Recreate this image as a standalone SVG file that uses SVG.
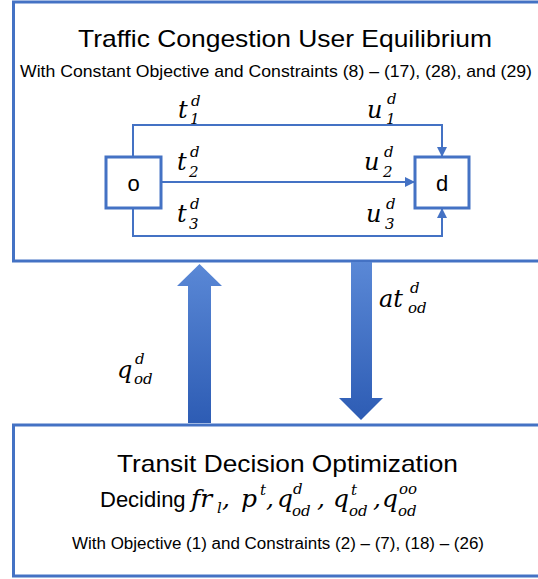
<svg xmlns="http://www.w3.org/2000/svg" width="538" height="579" viewBox="0 0 538 579">
<style>
.box{fill:#fff;stroke:#4472C4;stroke-width:3}
.node{fill:#fff;stroke:#4472C4;stroke-width:3}
.edge{fill:none;stroke:#4472C4;stroke-width:2}
.t{font-family:"Liberation Sans",Arial,sans-serif;fill:#000}
.m{font-family:"DejaVu Serif","Liberation Serif",serif;font-style:italic;fill:#000}
.s{font-size:15px}
.big{fill:url(#g)}
</style>
<defs>
<marker id="ah" markerWidth="10" markerHeight="10" refX="9" refY="5" orient="auto" markerUnits="userSpaceOnUse">
<path d="M0,0 L10,5 L0,10 z" fill="#4472C4"/>
</marker>
<linearGradient id="g" x1="0" y1="0" x2="0" y2="1">
<stop offset="0" stop-color="#5A88D6"/>
<stop offset="1" stop-color="#2D5CB4"/>
</linearGradient>
</defs>

<g id="top-box">
<rect class="box" x="13.5" y="2" width="540" height="259"/>
<text class="t" x="285" y="47" font-size="24" text-anchor="middle" textLength="414" lengthAdjust="spacingAndGlyphs">Traffic Congestion User Equilibrium</text>
<text class="t" x="276" y="77" font-size="17" text-anchor="middle" textLength="512" lengthAdjust="spacingAndGlyphs">With Constant Objective and Constraints (8) – (17), (28), and (29)</text>
</g>

<g id="bottom-box">
<rect class="box" x="13.5" y="425" width="540" height="151"/>
<text class="t" x="117" y="472" font-size="24" textLength="341" lengthAdjust="spacingAndGlyphs">Transit Decision Optimization</text>
<text class="t" x="100" y="507" font-size="22">Deciding</text>
<text class="m" x="191" y="507" font-size="25">fr<tspan class="s" x="217" y="513">l</tspan><tspan x="222" y="507">,</tspan></text>
<text class="m" x="241" y="507" font-size="25">p<tspan class="s" x="260" y="495">t</tspan><tspan x="266" y="507">,</tspan></text>
<text class="m" x="277" y="507" font-size="25">q<tspan class="s" x="293" y="494">d</tspan><tspan class="s" x="292" y="516">od</tspan><tspan x="317" y="507">,</tspan></text>
<text class="m" x="333" y="507" font-size="25">q<tspan class="s" x="351" y="495">t</tspan><tspan class="s" x="349" y="516">od</tspan><tspan x="373" y="507">,</tspan></text>
<text class="m" x="382" y="507" font-size="25">q<tspan class="s" x="399" y="494">oo</tspan><tspan class="s" x="398" y="516">od</tspan></text>
<text class="t" x="72" y="549" font-size="16" textLength="412" lengthAdjust="spacingAndGlyphs">With Objective (1) and Constraints (2) – (7), (18) – (26)</text>
</g>

<g id="node-o">
<rect class="node" x="106" y="157" width="55" height="51"/>
<text class="t" x="133.5" y="191" font-size="22" text-anchor="middle">o</text>
</g>

<g id="node-d">
<rect class="node" x="415" y="157" width="54" height="51"/>
<text class="t" x="442" y="191" font-size="22" text-anchor="middle">d</text>
</g>

<g id="connectors">
<path class="edge" d="M133,157 V125 H442 V156" marker-end="url(#ah)"/>
<path class="edge" d="M161,182 H414" marker-end="url(#ah)"/>
<path class="edge" d="M133,208 V236 H442 V209" marker-end="url(#ah)"/>
<text class="m" x="178" y="118" font-size="24">t<tspan class="s" x="191" y="106">d</tspan><tspan class="s" x="190" y="124">1</tspan></text>
<text class="m" x="367" y="118" font-size="24">u<tspan class="s" x="387" y="104">d</tspan><tspan class="s" x="386" y="124">1</tspan></text>
<text class="m" x="177" y="170" font-size="24">t<tspan class="s" x="190" y="157">d</tspan><tspan class="s" x="189" y="177">2</tspan></text>
<text class="m" x="364" y="170" font-size="24">u<tspan class="s" x="384" y="157">d</tspan><tspan class="s" x="383" y="177">2</tspan></text>
<text class="m" x="177" y="222" font-size="24">t<tspan class="s" x="190" y="209">d</tspan><tspan class="s" x="189" y="229">3</tspan></text>
<text class="m" x="366" y="222" font-size="24">u<tspan class="s" x="386" y="209">d</tspan><tspan class="s" x="385" y="229">3</tspan></text>
</g>

<g id="arrow-up">
<path class="big" d="M188,423 V286 H177 L199.5,264 L222,286 H211 V423 z"/>
<text class="m" x="117" y="378" font-size="24">q<tspan class="s" x="135" y="364">d</tspan><tspan class="s" x="134" y="384">od</tspan></text>
</g>

<g id="arrow-down">
<path class="big" d="M351,262 V398 H339 L361,420 L383,398 H372 V262 z"/>
<text class="m" x="379" y="307" font-size="24">at<tspan class="s" x="410" y="293">d</tspan><tspan class="s" x="408" y="313">od</tspan></text>
</g>
</svg>
